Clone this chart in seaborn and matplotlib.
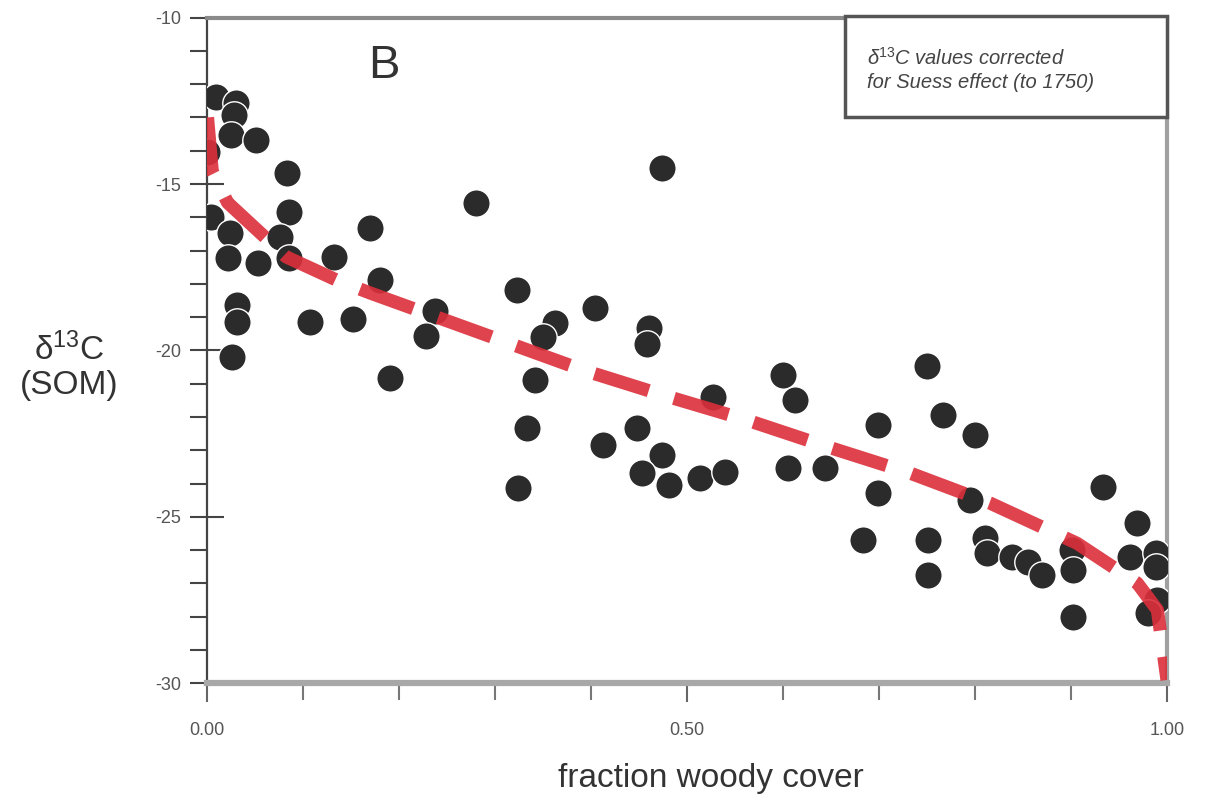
import numpy as np
import pandas as pd
import seaborn as sns
import matplotlib.pyplot as plt
from matplotlib.patches import Rectangle
from matplotlib.ticker import MultipleLocator, FixedLocator

# data: fraction woody cover vs. d13C of SOM
woody_cover = [
    0.010, 0.031, 0.029, 0.026, 0.052, 0.000, 0.084, 0.086, 0.005, 0.024,
    0.077, 0.170, 0.022, 0.054, 0.086, 0.133, 0.181, 0.032, 0.032, 0.108,
    0.152, 0.027, 0.191, 0.238, 0.228, 0.281, 0.474, 0.323, 0.404, 0.363,
    0.350, 0.342, 0.334, 0.324, 0.461, 0.459, 0.448, 0.413, 0.474, 0.453,
    0.482, 0.514, 0.540, 0.527, 0.600, 0.613, 0.605, 0.644, 0.699, 0.699,
    0.683, 0.750, 0.767, 0.800, 0.795, 0.751, 0.751, 0.811, 0.813, 0.839,
    0.855, 0.870, 0.901, 0.902, 0.902, 0.933, 0.969, 0.961, 0.989, 0.989,
    0.990, 0.980,
]
d13c_som = [
    -12.38, -12.56, -12.92, -13.52, -13.67, -14.03, -14.66, -15.83, -15.98, -16.47,
    -16.59, -16.32, -17.22, -17.37, -17.22, -17.19, -17.88, -18.63, -19.14, -19.14,
    -19.05, -20.20, -20.83, -18.81, -19.56, -15.56, -14.51, -18.18, -18.72, -19.17,
    -19.59, -20.89, -22.33, -24.14, -19.32, -19.80, -22.33, -22.84, -23.14, -23.68,
    -24.05, -23.83, -23.65, -21.40, -20.74, -21.49, -23.53, -23.53, -22.24, -24.29,
    -25.70, -20.47, -21.94, -22.54, -24.50, -25.70, -26.75, -25.64, -26.09, -26.21,
    -26.36, -26.75, -26.00, -26.60, -28.01, -24.11, -25.19, -26.21, -26.09, -26.51,
    -27.50, -27.89,
]

# fitted curve
fit_x = [0.001, 0.006, 0.022, 0.083, 0.135, 0.170, 0.305, 0.392, 0.475, 0.5625,
         0.647, 0.732, 0.816, 0.906, 0.969, 0.990, 1.000]
fit_y = [-13.0, -14.63, -15.56, -17.19, -17.88, -18.27, -19.68, -20.59, -21.34, -22.09,
         -22.90, -23.68, -24.59, -25.79, -26.99, -27.80, -29.9]

y_ticks = [-30, -25, -20, -15, -10]
y_ticklabels = ["-30", "-25", "-20", "-15", "-10"]
x_ticks = [0.0, 0.5, 1.0]
x_ticklabels = ["0.00", "0.50", "1.00"]

points_df = pd.DataFrame({"woody": woody_cover, "d13c": d13c_som})
fit_df = pd.DataFrame({"woody": fit_x, "d13c": fit_y})

sns.set_style("white")
plt.rcParams["font.family"] = ["Liberation Sans", "DejaVu Sans"]
plt.rcParams["mathtext.fontset"] = "custom"
plt.rcParams["mathtext.rm"] = "Liberation Sans"
plt.rcParams["mathtext.it"] = "Liberation Sans:italic"

fig = plt.figure(figsize=(12.22, 8.01), dpi=100)
ax = fig.add_axes([0.169, 0.147, 0.786, 0.831])

sns.scatterplot(
    data=points_df,
    x="woody",
    y="d13c",
    s=390,
    color="#2b2b2b",
    edgecolor="white",
    linewidth=1.0,
    ax=ax,
    zorder=3,
)
sns.lineplot(
    data=fit_df,
    x="woody",
    y="d13c",
    color="#dc2f3b",
    linewidth=9.5,
    ax=ax,
    zorder=4,
    sort=False,
)
ax.lines[-1].set_dashes((4.3, 2.0))
ax.lines[-1].set_alpha(0.9)

ax.set_xlim(0, 1)
ax.set_ylim(-30, -10)

ax.xaxis.set_major_locator(FixedLocator(x_ticks))
ax.xaxis.set_minor_locator(MultipleLocator(0.1))
ax.yaxis.set_major_locator(FixedLocator(y_ticks))
ax.yaxis.set_minor_locator(MultipleLocator(1))
ax.set_xticklabels(x_ticklabels)
ax.set_yticklabels(y_ticklabels)

ax.tick_params(axis="y", which="major", direction="inout", length=24, width=1.5,
               color="#444444", labelsize=13, labelcolor="#555555", pad=6)
ax.tick_params(axis="y", which="minor", direction="out", length=12, width=1.5,
               color="#444444")
ax.tick_params(axis="x", which="major", direction="out", length=14, width=1.5,
               color="#666666", labelsize=13, labelcolor="#555555", pad=14)
ax.tick_params(axis="x", which="minor", direction="out", length=12, width=1.5,
               color="#777777")
ax.tick_params(left=True, bottom=True, which="both")

# spines
ax.spines["left"].set_color("#444444")
ax.spines["left"].set_linewidth(1.6)
ax.spines["top"].set_color("#8a8a8a")
ax.spines["top"].set_linewidth(3.0)
ax.spines["bottom"].set_color("#a8a8a8")
ax.spines["bottom"].set_linewidth(4.5)
ax.spines["right"].set_color("#a0a0a0")
ax.spines["right"].set_linewidth(3.0)

ax.set_xlabel("fraction woody cover", fontsize=24, color="#333333", labelpad=6)
ax.xaxis.set_label_coords(0.525, -0.12)
ax.set_ylabel("")
fig.text(0.057, 0.542, "δ$^{13}$C\n(SOM)", ha="center", va="center",
         fontsize=24, color="#333333", linespacing=1.15)

ax.text(0.185, 0.928, "B", transform=ax.transAxes, fontsize=34, color="#333333",
        ha="center", va="center")

# note box in the upper right corner
ax.add_patch(Rectangle((0.665, 0.851), 0.335, 0.152, transform=ax.transAxes,
                       facecolor="white", edgecolor="#555555", linewidth=2.5,
                       clip_on=False, zorder=5))
ax.text(0.6875, 0.922,
        "δ$^{13}$C values corrected\nfor Suess effect (to 1750)",
        transform=ax.transAxes, fontsize=14.5, style="italic", color="#444444",
        ha="left", va="center", linespacing=1.25, zorder=6)

plt.savefig("out.png", dpi=100)
plt.close(fig)
